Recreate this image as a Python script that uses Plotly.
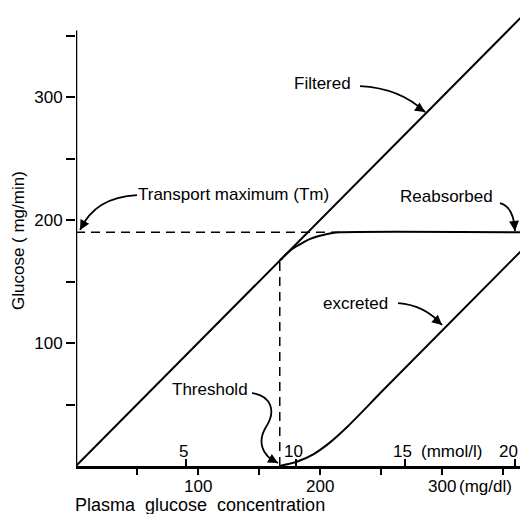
import plotly.graph_objects as go

# ---------------- data ----------------
PLASMA_FILTERED = [0, 372]          # plasma glucose (mg/dl)
FILTERED = [0, 372]                  # filtered load (mg/min)

REABS_X = [167, 172, 178, 185, 192, 199, 206, 216, 372]
REABS_Y = [167, 172, 177, 181, 184.6, 187, 188.7, 190, 190]

EXCR_X = [167, 181, 194.5, 208, 222, 235.5, 249, 372]
EXCR_Y = [0, 3.5, 9.5, 19, 31.5, 45, 59, 182]

TM = 190            # transport maximum (mg/min)
THRESHOLD = 167     # renal threshold (mg/dl)

Y_TICKS = [50, 100, 150, 200, 250, 300, 350]
Y_TICK_TEXT = ["", "100", "", "200", "", "300", ""]
X_MG_TICKS = [50, 100, 150, 200, 250, 300, 350]
X_MG_LABELS = ["100", "200", "300"]
X_MG_LABEL_POS = [100, 200, 300]
MMOL_TICKS = [90, 180, 270, 360]      # 5,10,15,20 mmol/l in mg/dl
MMOL_LABELS = ["5", "10", "15", "20"]
MMOL_LABEL_POS = [88, 178, 268, 354.5]

XMAX = 363.9
YMAX = 368.3
PLOT_H = 453
FONT = "Liberation Sans"
FS = 17

fig = go.Figure()
line = dict(color="black", width=2)

fig.add_trace(go.Scatter(x=PLASMA_FILTERED, y=FILTERED, mode="lines", line=line, hoverinfo="skip"))
fig.add_trace(go.Scatter(x=REABS_X, y=REABS_Y, mode="lines",
                         line=dict(color="black", width=2, shape="spline", smoothing=0.6), hoverinfo="skip"))
fig.add_trace(go.Scatter(x=EXCR_X, y=EXCR_Y, mode="lines",
                         line=dict(color="black", width=2, shape="spline", smoothing=0.6), hoverinfo="skip"))
# dashed Tm and threshold guides
dash = dict(color="black", width=1.5, dash="9px,6px")
fig.add_trace(go.Scatter(x=[0, REABS_X[7]], y=[TM, TM], mode="lines", line=dash, hoverinfo="skip"))
fig.add_trace(go.Scatter(x=[THRESHOLD, THRESHOLD], y=[0, THRESHOLD], mode="lines", line=dash, hoverinfo="skip"))
# mmol ticks axis (dummy trace)
fig.add_trace(go.Scatter(x=[0], y=[0], xaxis="x2", mode="lines", line=dict(width=0), hoverinfo="skip"))

shapes = []
# y axis line (shorter than plot area)
shapes.append(dict(type="line", xref="x", yref="y", x0=0, x1=0, y0=0, y1=354,
                   line=dict(color="black", width=2.5)))
# curved arrow paths
arrow_line = dict(color="black", width=1.8)
paths = [
    "M 232.8,308.9 Q 265.6,307.3 286.1,287.8",            # Filtered
    "M 50,220.3 Q 15.6,218.7 3.3,191.9",                  # Tm
    "M 347.5,213.8 Q 359.0,210.6 359.8,191.1",            # Reabsorbed
    "M 263.9,132.5 Q 286.1,130.9 300,114.6",              # excreted
    "M 144.3,59.3 C 160.7,56.9 163.9,43.9 155.7,31.7 C 149.2,21.1 150.8,8.9 165.6,2.4",  # Threshold
]
for p in paths:
    shapes.append(dict(type="path", xref="x", yref="y", path=p, line=arrow_line))

ann = []
def txt(x, y, s, xanchor="center", size=FS, xref="x", yref="y", angle=0):
    ann.append(dict(x=x, y=y, xref=xref, yref=yref, text=s, showarrow=False,
                    xanchor=xanchor, yanchor="middle", textangle=angle,
                    font=dict(family=FONT, size=size, color="black")))

def head(x, y, ax, ay):
    ann.append(dict(x=x, y=y, xref="x", yref="y", text="", showarrow=True,
                    arrowhead=2, arrowsize=1.1, arrowwidth=1.8, arrowcolor="black",
                    ax=ax, ay=ay, standoff=0))

txt(202, 311, "Filtered")
txt(129, 221, "Transport maximum (Tm)")
txt(304, 219, "Reabsorbed")
txt(229, 132.5, "excreted")
txt(110, 62, "Threshold")

head(286.1, 287.8, -9, -6)
head(3.3, 191.9, 5, -9)
head(359.8, 191.1, -1, -10)
head(300, 114.6, -8, -7)
head(165.6, 2.4, -9, -5)

# x tick labels (mg/dl) below axis
below = -20.5 / PLOT_H
for v, s in zip(X_MG_LABEL_POS, X_MG_LABELS):
    txt(v, below, s, yref="paper")
txt(312, below, "(mg/dl)", xanchor="left", yref="paper")
# mmol/l labels above axis
for v, s in zip(MMOL_LABEL_POS, MMOL_LABELS):
    txt(v, 12, s)
txt(281, 12, "(mmol/l)", xanchor="left")

# axis titles
txt(-0.128, 0.497, "Glucose ( mg/min)", xref="paper", yref="paper", angle=-90)
txt(101.6, -39.5 / PLOT_H, "Plasma  glucose  concentration", yref="paper", size=18)

# the page body has an 8px margin, so the figure is shrunk and shifted
fig.update_layout(
    width=520, height=506,
    margin=dict(l=68, r=8, t=5, b=48),
    paper_bgcolor="white", plot_bgcolor="white",
    showlegend=False,
    shapes=shapes, annotations=ann,
    xaxis=dict(range=[0, XMAX], showgrid=False, zeroline=False,
               showline=True, linecolor="black", linewidth=2.5,
               ticks="outside", tickvals=X_MG_TICKS, ticklen=6, tickwidth=2,
               tickcolor="black", showticklabels=False, fixedrange=True),
    xaxis2=dict(range=[0, XMAX], overlaying="x", anchor="y", side="bottom",
                showgrid=False, zeroline=False, showline=False,
                ticks="inside", tickvals=MMOL_TICKS, ticklen=7, tickwidth=2,
                tickcolor="black", showticklabels=False, fixedrange=True),
    yaxis=dict(range=[0, YMAX], showgrid=False, zeroline=False, showline=False,
               ticks="outside", tickvals=Y_TICKS, ticktext=Y_TICK_TEXT,
               ticklen=9, tickwidth=2, tickcolor="black",
               tickfont=dict(family=FONT, size=FS, color="black"), fixedrange=True),
)

fig.write_html("out.html")
